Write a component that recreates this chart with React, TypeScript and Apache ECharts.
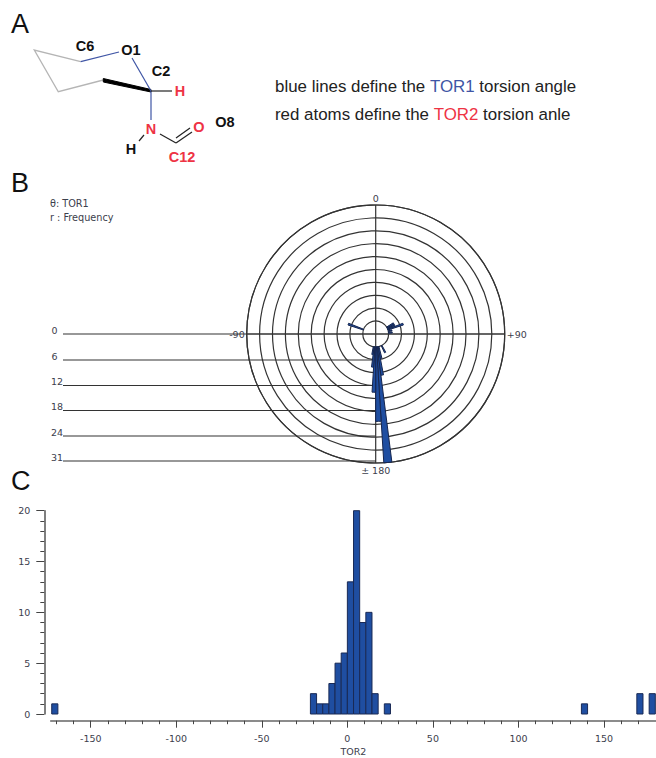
import React, { useEffect, useRef } from "react";
import * as echarts from "echarts";

// Panel C: histogram of TOR2 (3.6 degree bins)
const tor2BinStart = [-172.8, -21.6, -18, -14.4, -10.8, -7.2, -3.6, 0, 3.6, 7.2, 10.8, 14.4, 21.6, 136.8, 169.2, 176.4];
const tor2Counts = [1, 2, 1, 1, 3, 5, 6, 13, 20, 9, 10, 2, 1, 1, 2, 2];
const tor2MajorTicks = [-150, -100, -50, 0, 50, 100, 150];
const tor2MinorTicks = [-170, -160, -140, -130, -120, -110, -90, -80, -70, -60, -40, -30, -20, -10, 10, 20, 30, 40, 60, 70, 80, 90, 110, 120, 130, 140, 160, 170];

// Panel B: polar histogram of TOR1 (3.6 degree bins)
const tor1BinStart = [172.8, 176.4, -180, -176.4, 169.2, 165.6, -172.8, 151.2, 68.4, 64.8, 61.2, 57.6, 75.6, 82.8, -72];
const tor1Counts = [31, 21, 14, 8, 10, 6, 5, 5, 7, 5, 5, 5, 4, 4, 7];
const tor1RadialLabels = ["0", "6", "12", "18", "24", "31"];
const tor1AngleLabels: Record<string, string> = { "-180": "± 180", "-90": "-90", "0": "0", "90": "+90" };

const BIN = 3.6;
const HOLE = 3.1;
const INK = "#333333";
const LABEL = "#3c404c";
const BLUE = "#3f55a5";
const RED = "#ee3344";
const UI_FONT = "'DejaVu Sans'";
const SANS = "'Liberation Sans'";

const line = (x1: number, y1: number, x2: number, y2: number, stroke: string, lineWidth = 1) => ({
  type: "line", shape: { x1, y1, x2, y2 }, style: { stroke, lineWidth }, silent: true,
});
const label = (x: number, y: number, text: string, fill = "#111", fontSize = 14.5, fontWeight: any = "bold", align = "center", family = SANS) => ({
  type: "text", x, y,
  style: { text, fill, font: `${fontWeight} ${fontSize}px ${family}`, textAlign: align, textVerticalAlign: "middle" },
  silent: true,
});

const radialLineY = [334, 360, 385.5, 410.5, 436, 461];
const radialLabelY = [330.5, 356.5, 381.5, 406.5, 432, 457];

export default function App() {
  const ref = useRef<HTMLDivElement>(null);
  useEffect(() => {
    const chart = echarts.init(ref.current!, null, { renderer: "svg" });
    const graphic: any[] = [
      label(11, 24, "A", "#111", 27, "normal", "left"),
      label(11, 183, "B", "#111", 27, "normal", "left"),
      label(11, 481, "C", "#111", 27, "normal", "left"),
      // molecule
      { type: "polyline", shape: { points: [[80.7, 61.7], [34.3, 50], [58.3, 91.7], [103.3, 80]] }, style: { stroke: "#b5b5b5", lineWidth: 1.3, fill: "none" }, silent: true },
      { type: "polygon", shape: { points: [[103.3, 78.5], [151, 89.5], [151, 92], [103.3, 82]] }, style: { fill: "#000", stroke: "#000", lineWidth: 1 }, silent: true },
      line(80.7, 61.7, 119, 52, BLUE, 1.2),
      line(132, 58, 151, 91, BLUE, 1.2),
      line(151, 91, 151, 120, BLUE, 1.2),
      line(151, 91, 172, 91, "#222", 1.2),
      line(160, 134, 176, 143, "#222", 1.2),
      line(176, 143, 192, 132, "#222", 1.2),
      line(176, 138, 190, 128, "#222", 1.2),
      line(144, 135, 139, 141, "#222", 1.2),
      label(85, 46, "C6"), label(131, 50, "O1"), label(161, 71, "C2"),
      label(180, 91, "H", RED), label(151, 129, "N", RED), label(199, 127, "O", RED),
      label(225, 122, "O8"), label(131, 149, "H"), label(182, 157, "C12", RED),
      // explanation
      {
        type: "text", x: 275, y: 86, silent: true,
        style: {
          text: "{k|blue lines define the }{b|TOR1}{k| torsion angle}",
          textVerticalAlign: "middle",
          rich: {
            k: { fill: "#222", font: `normal 16.9px ${SANS}` },
            b: { fill: BLUE, font: `normal 16.9px ${SANS}` },
          },
        },
      },
      {
        type: "text", x: 275, y: 114, silent: true,
        style: {
          text: "{k|red atoms define the }{r|TOR2}{k| torsion anle}",
          textVerticalAlign: "middle",
          rich: {
            k: { fill: "#222", font: `normal 16.9px ${SANS}` },
            r: { fill: RED, font: `normal 16.9px ${SANS}` },
          },
        },
      },
      // polar legend
      label(50, 203, "θ: TOR1", LABEL, 9.7, "normal", "left", UI_FONT),
      label(50, 217.5, "r : Frequency", LABEL, 9.7, "normal", "left", UI_FONT),
      // frequency scale
      ...tor1RadialLabels.map((t, i) => line(63, radialLineY[i], i === 0 ? 505 : 375.7, radialLineY[i], INK, 1.1)),
      ...tor1RadialLabels.map((t, i) => label(i < 2 ? 51.5 : 51, radialLabelY[i], t, LABEL, 9.5, "normal", "left", UI_FONT)),
    ];

    const option: any = {
      animation: false,
      backgroundColor: "#fff",
      graphic,
      polar: { center: [375.7, 334], radius: 129 },
      angleAxis: {
        type: "value", polarIndex: 0, min: -180, max: 180, interval: 90,
        startAngle: -90, clockwise: true,
        axisLine: { show: true, lineStyle: { color: INK, width: 1.2 } },
        axisTick: { show: false },
        minorTick: { show: false },
        splitLine: { show: true, lineStyle: { color: INK, width: 1.2 } },
        axisLabel: {
          show: true, margin: 2, color: LABEL, fontSize: 9.5, fontFamily: UI_FONT,
          formatter: (v: number) => tor1AngleLabels[String(v)] ?? "",
        },
      },
      radiusAxis: {
        type: "value", polarIndex: 0, min: 0, max: 31, interval: 3.1,
        axisLine: { show: false }, axisTick: { show: false }, axisLabel: { show: false },
        splitLine: { show: true, lineStyle: { color: INK, width: 1.2 } },
      },
      grid: { left: 50.7, top: 510.7, right: 0, height: 203.3 },
      xAxis: [
        {
          type: "value", gridIndex: 0, min: -173.4, max: 180.4, position: "bottom", offset: 6.7,
          name: "TOR2", nameLocation: "middle", nameGap: 26,
          nameTextStyle: { color: LABEL, fontSize: 9.5, fontFamily: UI_FONT },
          axisLine: { show: true, onZero: false, lineStyle: { color: "#666", width: 1.5 } },
          axisTick: { show: true, length: 7, customValues: tor2MajorTicks, lineStyle: { color: "#444", width: 1 } },
          axisLabel: { show: true, customValues: tor2MajorTicks, margin: 13, color: LABEL, fontSize: 9.5, fontFamily: UI_FONT },
          splitLine: { show: false },
        },
        {
          type: "value", gridIndex: 0, min: -173.4, max: 180.4, position: "bottom", offset: 6.7,
          axisLine: { show: false, onZero: false },
          axisTick: { show: true, length: 3.5, customValues: tor2MinorTicks, lineStyle: { color: "#444", width: 1 } },
          axisLabel: { show: false },
          splitLine: { show: false },
        },
      ],
      yAxis: {
        type: "value", gridIndex: 0, min: 0, max: 20, interval: 5, position: "left", offset: 6.4,
        axisLine: { show: true, onZero: false, lineStyle: { color: "#555", width: 1.5 } },
        axisTick: { show: true, length: 8, lineStyle: { color: "#444", width: 1 } },
        minorTick: { show: true, splitNumber: 5, length: 4, lineStyle: { color: "#444", width: 1 } },
        minorSplitLine: { show: false },
        axisLabel: { show: true, margin: 14, color: LABEL, fontSize: 9.5, fontFamily: UI_FONT },
        splitLine: { show: false },
      },
      series: [
        {
          type: "custom", coordinateSystem: "polar", polarIndex: 0, clip: false, z: 5,
          data: tor1BinStart.map((s, i) => [s, tor1Counts[i]]),
          encode: { radius: 1, angle: 0 },
          renderItem: (params: any, api: any) => {
            const a0 = api.value(0);
            const r = api.value(1);
            const a1 = a0 + BIN;
            const p = (rad: number, ang: number) => api.coord([rad, ang]);
            return {
              type: "polygon",
              shape: { points: [p(HOLE, a0), p(r, a0), p(r, a0 + BIN / 2), p(r, a1), p(HOLE, a1)] },
              style: { fill: "#1f4ea1", stroke: "#16264f", lineWidth: 1 },
            };
          },
        },
        {
          type: "custom", coordinateSystem: "cartesian2d", xAxisIndex: 0, yAxisIndex: 0, clip: false, z: 5,
          data: tor2BinStart.map((s, i) => [s, tor2Counts[i]]),
          encode: { x: 0, y: 1 },
          renderItem: (params: any, api: any) => {
            const a = api.coord([api.value(0), 0]);
            const b = api.coord([api.value(0) + BIN, api.value(1)]);
            return {
              type: "rect",
              shape: { x: a[0], y: b[1], width: b[0] - a[0], height: a[1] - b[1] },
              style: { fill: "#1f4ea1", stroke: "#1a2a55", lineWidth: 1 },
            };
          },
        },
      ],
    };
    chart.setOption(option);
    return () => chart.dispose();
  }, []);
  return <div ref={ref} style={{ position: "absolute", left: 0, top: 0, width: 656, height: 758, background: "#fff" }} />;
}
